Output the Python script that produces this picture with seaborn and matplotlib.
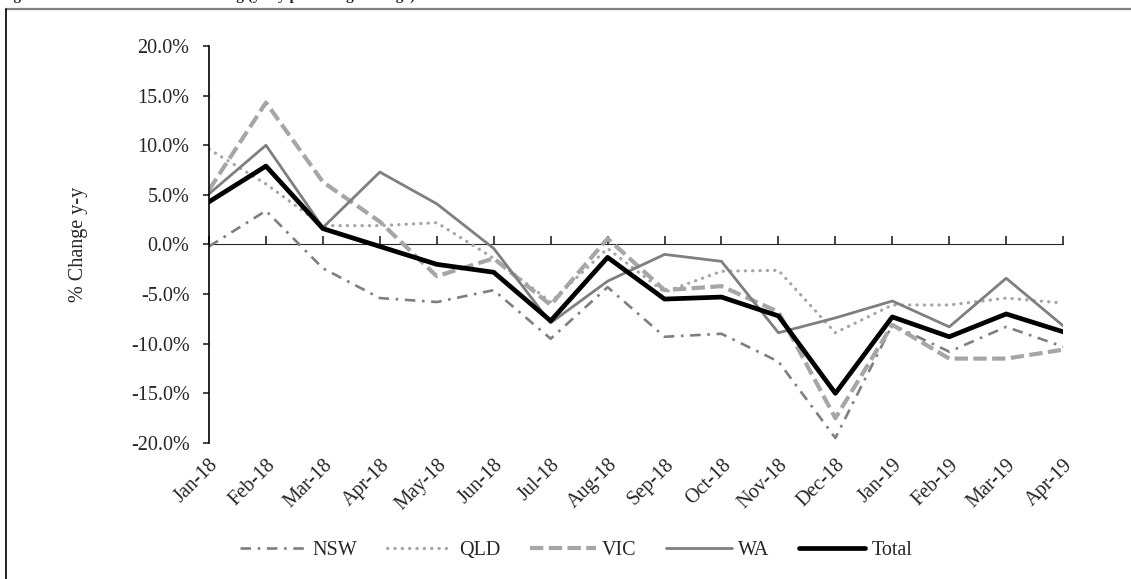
import matplotlib
matplotlib.use("Agg")
import matplotlib.pyplot as plt
from matplotlib.lines import Line2D
from matplotlib.ticker import FuncFormatter
import pandas as pd
import seaborn as sns

# Data (% change y-y)
months = ["Jan-18", "Feb-18", "Mar-18", "Apr-18", "May-18", "Jun-18", "Jul-18", "Aug-18",
          "Sep-18", "Oct-18", "Nov-18", "Dec-18", "Jan-19", "Feb-19", "Mar-19", "Apr-19"]
nsw = [-0.2, 3.4, -2.4, -5.4, -5.8, -4.6, -9.5, -4.3, -9.3, -9.0, -11.8, -19.5, -8.1, -10.8, -8.3, -10.3]
qld = [9.6, 6.1, 1.9, 1.9, 2.2, -1.4, -5.8, -0.4, -4.8, -2.7, -2.6, -8.9, -6.1, -6.1, -5.4, -5.9]
vic = [5.5, 14.3, 6.3, 2.3, -3.2, -1.4, -6.1, 0.6, -4.6, -4.2, -6.8, -17.5, -8.1, -11.5, -11.5, -10.6]
wa = [5.1, 10.0, 1.7, 7.3, 4.1, -0.4, -7.9, -3.7, -1.0, -1.7, -8.9, -7.4, -5.7, -8.3, -3.4, -8.2]
total = [4.3, 7.9, 1.6, -0.2, -2.0, -2.8, -7.7, -1.3, -5.5, -5.3, -7.2, -15.0, -7.3, -9.3, -7.0, -8.8]

series = {"NSW": nsw, "QLD": qld, "VIC": vic, "WA": wa, "Total": total}
styles = {
    "NSW": dict(color="#7f7f7f", lw=1.9, dashes=(4, 2.5, 1, 2.5), cap="butt"),
    "QLD": dict(color="#a6a6a6", lw=2.3, dashes=(0.1, 2.2), cap="round"),
    "VIC": dict(color="#a6a6a6", lw=3.0, dashes=(3.2, 1.3), cap="butt"),
    "WA": dict(color="#7f7f7f", lw=2.0, dashes=None, cap="butt"),
    "Total": dict(color="black", lw=3.4, dashes=None, cap="butt"),
}

FS = 14.5

sns.set_style("white")
plt.rcParams["font.family"] = ["Liberation Serif", "DejaVu Serif"]

fig = plt.figure(figsize=(11.31, 5.79), dpi=100)
ax = fig.add_axes([0.1848, 0.235, 0.7552, 0.6855])

x = list(range(len(months)))
for name, vals in series.items():
    st = styles[name]
    sns.lineplot(x=x, y=vals, ax=ax, color=st["color"], linewidth=st["lw"], label=name, sort=False)
    line = ax.lines[-1]
    if st["dashes"] is not None:
        line.set_dashes(st["dashes"])
        line.set_dash_capstyle(st["cap"])

ax.set_xlim(0, len(months) - 1)
ax.set_ylim(-20, 20)
ax.set_yticks(range(-20, 21, 5))
ax.yaxis.set_major_formatter(FuncFormatter(lambda v, p: f"{v:.1f}%"))
ax.tick_params(axis="y", direction="out", length=4, width=1.2, labelsize=FS, pad=10, left=True)
ax.set_ylabel("% Change y-y", fontsize=FS, labelpad=31)

ax.set_xticks(x)
ax.set_xticklabels(months, rotation=45, ha="right", rotation_mode="anchor", fontsize=FS)
ax.tick_params(axis="x", length=0, pad=9)

for side in ["top", "right", "bottom"]:
    ax.spines[side].set_visible(False)
ax.spines["left"].set_color("black")
ax.spines["left"].set_linewidth(1.2)

# zero line carrying the category tick marks
sec = ax.secondary_xaxis(0.5)
sec.set_xticks(x)
sec.set_xticklabels([])
sec.tick_params(direction="out", length=6, width=1.2)
sec.spines["bottom"].set_linewidth(1.2)
sec.spines["bottom"].set_color("black")

leg = ax.legend(loc="center left", bbox_to_anchor=(222 / 1131, 1 - 550 / 579), bbox_transform=fig.transFigure,
                ncol=5, frameon=False, fontsize=FS, handlelength=3.3, handletextpad=0.3,
                columnspacing=1.45)

# figure frame and clipped title
fig.add_artist(Line2D([6 / 1131, 1], [1 - 9 / 579, 1 - 9 / 579], color="#7f7f7f", lw=1.6))
fig.add_artist(Line2D([6 / 1131, 6 / 1131], [0, 1 - 9 / 579], color="black", lw=1.2))
fig.text(0.0, 1.0, "Figure 3: Total Value of New Lending (y-o-y percentage change)",
         fontsize=11, fontweight="bold", va="baseline", ha="left")

fig.savefig("out.png", dpi=100)
